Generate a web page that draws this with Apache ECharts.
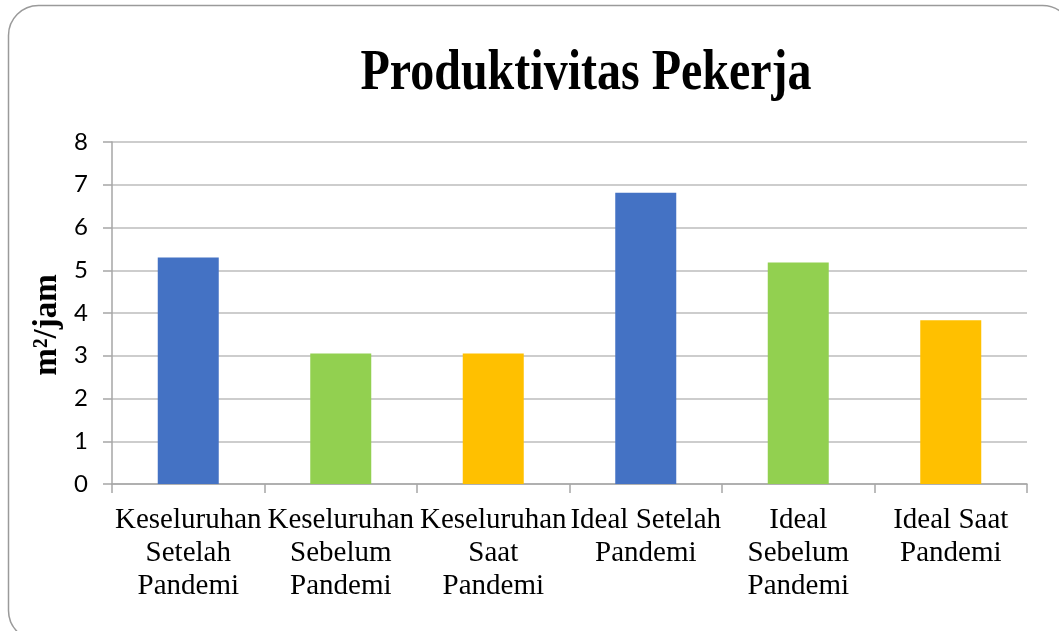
<!DOCTYPE html>
<html>
<head>
<meta charset="utf-8">
<script src="https://cdn.jsdelivr.net/npm/echarts@6/dist/echarts.min.js"></script>
<style>
html,body{margin:0;padding:0;background:#fff;}
#c{width:1059px;height:631px;}
</style>
</head>
<body>
<div id="c"></div>
<script>
var categories = [
  "Keseluruhan\nSetelah\nPandemi",
  "Keseluruhan\nSebelum\nPandemi",
  "Keseluruhan\nSaat\nPandemi",
  "Ideal Setelah\nPandemi",
  "Ideal\nSebelum\nPandemi",
  "Ideal Saat\nPandemi"
];
var values = [5.3, 3.05, 3.05, 6.81, 5.18, 3.83];
var barColors = ["#4472C4", "#92D050", "#FFC000", "#4472C4", "#92D050", "#FFC000"];
var titleText = "Produktivitas Pekerja";
var yAxisName = "m²/jam";

var chart = echarts.init(document.getElementById('c'), null, {renderer: 'canvas'});
chart.setOption({
  animation: false,
  backgroundColor: '#ffffff',
  graphic: [
    {
      type: 'rect',
      shape: {x: 8.5, y: 5.5, width: 1064, height: 635, r: 30},
      style: {fill: 'none', stroke: '#9a9a9a', lineWidth: 1.5},
      silent: true, z: 0
    },
    {
      type: 'text',
      x: 586, y: 74,
      scaleY: 1.2,
      style: {
        text: titleText,
        font: 'bold 48px "Liberation Serif"',
        fill: '#000',
        textAlign: 'center',
        textVerticalAlign: 'middle'
      }
    },
    {
      type: 'text',
      x: 47, y: 325,
      rotation: Math.PI / 2,
      style: {
        text: yAxisName,
        font: 'bold 33px "Liberation Serif"',
        fill: '#000',
        textAlign: 'center',
        textVerticalAlign: 'middle'
      }
    }
  ],
  grid: {left: 112, right: 32, top: 142, bottom: 147, containLabel: false},
  xAxis: {
    type: 'category',
    data: categories,
    axisLine: {show: true, lineStyle: {color: '#a6a6a6', width: 1.5}},
    axisTick: {show: true, length: 9, alignWithLabel: false, lineStyle: {color: '#a6a6a6', width: 1.5}},
    axisLabel: {
      interval: 0,
      margin: 20,
      color: '#000',
      fontFamily: 'Liberation Serif',
      fontSize: 29,
      lineHeight: 33,
      align: 'center'
    }
  },
  yAxis: {
    type: 'value',
    min: 0, max: 8, interval: 1,
    axisLine: {show: true, lineStyle: {color: '#a6a6a6', width: 1.5}},
    axisTick: {show: true, length: 9, lineStyle: {color: '#a6a6a6', width: 1.5}},
    axisLabel: {color: '#000', fontFamily: 'Lato', fontSize: 24, margin: 24},
    splitLine: {show: true, lineStyle: {color: '#bdbdbd', width: 1.5}}
  },
  series: [{
    type: 'bar',
    barWidth: '40%',
    data: values.map(function (v, i) {
      return {value: v, itemStyle: {color: barColors[i]}};
    })
  }]
});
</script>
</body>
</html>
